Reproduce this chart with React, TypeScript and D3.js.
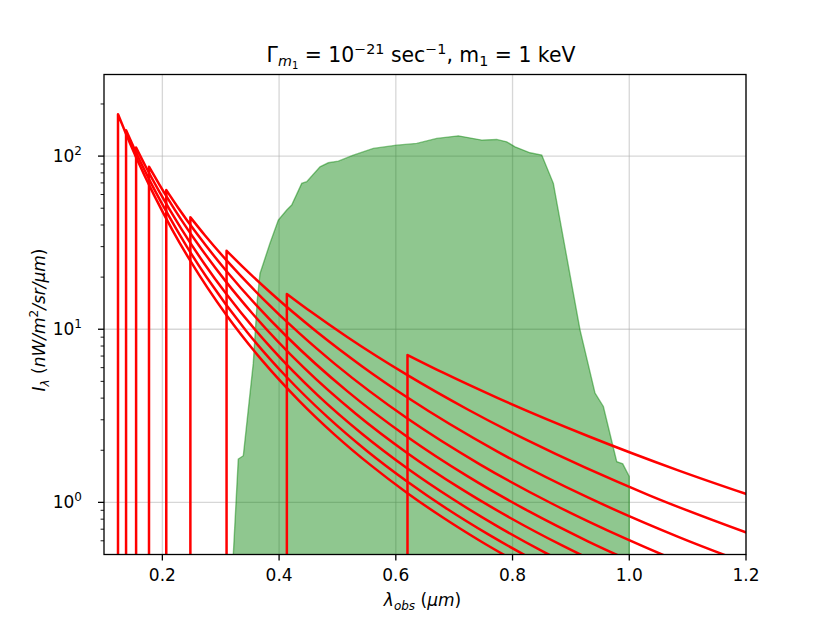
import React from 'react';
import * as d3 from 'd3';

const W = 830;
const H = 623;
const PLOT = { left: 104, right: 746, top: 74.5, bottom: 554.5 };

const xDomain = [0.1, 1.2];
const yDomain = [0.5, 296];
const xTicks = [0.2, 0.4, 0.6, 0.8, 1.0, 1.2];
const xTickLabels = ['0.2', '0.4', '0.6', '0.8', '1.0', '1.2'];
const yTicks = [1, 10, 100];
const yTickExps = ['0', '1', '2'];

// green band (observational sensitivity region)
const bandLambda = [0.3213, 0.3301, 0.3387, 0.3558, 0.3627, 0.3673, 0.373, 0.3844, 0.3987, 0.4131, 0.4216, 0.4388, 0.4473, 0.4701, 0.4843, 0.5015, 0.5272, 0.5614, 0.6015, 0.6358, 0.6701, 0.7071, 0.7472, 0.7729, 0.79, 0.8043, 0.83, 0.85, 0.8699, 0.9156, 0.9413, 0.9556, 0.9785, 0.9888, 1.0, 1.0001];
const bandFlux = [0.48, 1.78, 1.86, 6.37, 14.8, 21.0, 24.0, 31.4, 42.7, 48.8, 52.2, 69.6, 71.1, 86.8, 91.5, 93.5, 101.3, 110.8, 115.7, 118.4, 126.5, 130.9, 123.7, 124.8, 120.9, 113.2, 104.5, 101.4, 69.6, 9.92, 4.28, 3.58, 1.72, 1.67, 1.41, 0.48];

// red lines: [lambda_obs, I]
const line10 = [[0.124, 174.7], [0.1364, 137.7], [0.155, 98.5], [0.186, 59.3], [0.217, 37.54], [0.248, 24.81], [0.31, 12.04], [0.372, 6.54], [0.434, 3.873], [0.496, 2.448], [0.558, 1.63], [0.62, 1.13], [0.682, 0.812], [0.744, 0.6], [0.868, 0.35]];
const line9 = [[0.1378, 141], [0.1516, 111.1], [0.1722, 79.5], [0.2067, 47.9], [0.2411, 30.3], [0.2756, 20.02], [0.3444, 9.71], [0.4133, 5.28], [0.4822, 3.126], [0.5511, 1.975], [0.62, 1.316], [0.6889, 0.912], [0.7578, 0.655], [0.8267, 0.484], [0.9644, 0.283]];
const line8 = [[0.155, 112], [0.1705, 88.3], [0.1938, 63.2], [0.2325, 38.0], [0.2713, 24.07], [0.31, 15.9], [0.3875, 7.72], [0.465, 4.19], [0.5425, 2.483], [0.62, 1.569], [0.6975, 1.045], [0.775, 0.725], [0.8525, 0.52], [0.93, 0.384]];
const line7 = [[0.1771, 86.8], [0.1949, 68.4], [0.2214, 48.96], [0.2657, 29.48], [0.31, 18.65], [0.3543, 12.33], [0.4429, 5.98], [0.5314, 3.251], [0.62, 1.924], [0.7086, 1.216], [0.7971, 0.81], [0.8857, 0.562], [1.0629, 0.298]];
const line6 = [[0.2067, 63.7], [0.2273, 50.2], [0.2583, 35.93], [0.31, 21.63], [0.3617, 13.69], [0.4133, 9.05], [0.5167, 4.39], [0.62, 2.386], [0.7233, 1.412], [0.8267, 0.892], [0.93, 0.594], [1.0333, 0.412]];
const line5 = [[0.248, 44.3], [0.2728, 34.9], [0.31, 24.99], [0.372, 15.04], [0.434, 9.52], [0.496, 6.29], [0.62, 3.05], [0.744, 1.659], [0.868, 0.982], [0.992, 0.621], [1.116, 0.4133], [1.24, 0.287]];
const line4 = [[0.31, 28.4], [0.341, 22.38], [0.3875, 16.02], [0.465, 9.64], [0.5425, 6.1], [0.62, 4.03], [0.775, 1.957], [0.93, 1.064], [1.085, 0.63], [1.24, 0.398]];
const line3 = [[0.4133, 16.0], [0.4547, 12.61], [0.5167, 9.02], [0.62, 5.43], [0.7233, 3.44], [0.8267, 2.27], [1.0333, 1.102], [1.24, 0.599]];
const line2 = [[0.62, 7.1], [0.682, 5.59], [0.775, 4.0], [0.93, 2.41], [1.085, 1.526], [1.24, 1.008]];

const redLines = [line10, line9, line8, line7, line6, line5, line4, line3, line2];

const FONT = 'DejaVu Sans, Verdana, sans-serif';
const FS = 17;

export default function App() {
  const x = d3.scaleLinear().domain(xDomain).range([PLOT.left, PLOT.right]);
  const y = d3.scaleLog().domain(yDomain).range([PLOT.bottom, PLOT.top]);

  const bandPts = bandLambda.map((l, i) => [l, bandFlux[i]] as [number, number]);
  const area = d3
    .area<[number, number]>()
    .x((d) => x(d[0]))
    .y0(PLOT.bottom + 5)
    .y1((d) => y(d[1]));
  const bandLine = d3
    .line<[number, number]>()
    .x((d) => x(d[0]))
    .y((d) => y(d[1]));

  const curve = d3
    .line<number[]>()
    .x((d) => x(d[0]))
    .y((d) => y(d[1]))
    .curve(d3.curveMonotoneX);

  const redPaths = redLines.map((pts) => {
    const p = curve(pts) || '';
    const x0 = x(pts[0][0]);
    return `M${x0},${PLOT.bottom + 5}` + p.replace(/^M/, 'L');
  });

  const minorTicks: number[] = [];
  for (let e = -1; e <= 2; e++) {
    for (let k = 2; k <= 9; k++) {
      const v = k * Math.pow(10, e);
      if (v > yDomain[0] * 1.001 && v < yDomain[1]) minorTicks.push(v);
    }
  }

  return (
    <svg
      width={W}
      height={H}
      viewBox={`0 0 ${W} ${H}`}
      style={{ position: 'absolute', left: 0, top: 0, background: '#fff' }}
      fontFamily={FONT}
    >
      <defs>
        <clipPath id="plotClip">
          <rect x={PLOT.left} y={PLOT.top} width={PLOT.right - PLOT.left} height={PLOT.bottom - PLOT.top} />
        </clipPath>
      </defs>
      <rect x={0} y={0} width={W} height={H} fill="#fff" />

      {/* grid */}
      <g stroke="#b0b0b0" strokeOpacity={0.5} strokeWidth={1.3}>
        {xTicks.map((t) => (
          <line key={'gx' + t} x1={x(t)} x2={x(t)} y1={PLOT.top} y2={PLOT.bottom} />
        ))}
        {yTicks.map((t) => (
          <line key={'gy' + t} x1={PLOT.left} x2={PLOT.right} y1={y(t)} y2={y(t)} />
        ))}
      </g>

      <g clipPath="url(#plotClip)">
        <path d={area(bandPts) || ''} fill="green" fillOpacity={0.44} stroke="none" />
        <path d={bandLine(bandPts) || ''} fill="none" stroke="green" strokeOpacity={0.45} strokeWidth={1.4} />
        {redPaths.map((d, i) => (
          <path key={'r' + i} d={d} fill="none" stroke="#ff0000" strokeWidth={2.5} strokeLinejoin="round" />
        ))}
      </g>

      {/* spines */}
      <rect
        x={PLOT.left}
        y={PLOT.top}
        width={PLOT.right - PLOT.left}
        height={PLOT.bottom - PLOT.top}
        fill="none"
        stroke="#000"
        strokeWidth={1.3}
      />

      {/* ticks */}
      <g stroke="#000" strokeWidth={1.3}>
        {xTicks.map((t) => (
          <line key={'xt' + t} x1={x(t)} x2={x(t)} y1={PLOT.bottom} y2={PLOT.bottom + 6} />
        ))}
        {yTicks.map((t) => (
          <line key={'yt' + t} x1={PLOT.left - 6} x2={PLOT.left} y1={y(t)} y2={y(t)} />
        ))}
        {minorTicks.map((t) => (
          <line key={'ym' + t} x1={PLOT.left - 3.4} x2={PLOT.left} y1={y(t)} y2={y(t)} strokeWidth={0.9} />
        ))}
      </g>
      <g fontSize={FS} fill="#000">
        {xTicks.map((t, i) => (
          <text key={'xl' + t} x={x(t)} y={580.5} textAnchor="middle">
            {xTickLabels[i]}
          </text>
        ))}
        {yTicks.map((t, i) => (
          <text key={'yl' + t} x={PLOT.left - 22} y={y(t) + 6} textAnchor="end">
            10
            <tspan fontSize={12} dy={-7.5}>
              {yTickExps[i]}
            </tspan>
          </text>
        ))}
      </g>

      {/* x label */}
      <text x={422.5} y={606} textAnchor="middle" fontSize={FS}>
        <tspan fontStyle="italic">λ</tspan>
        <tspan fontStyle="italic" fontSize={12} dy={3.5}>
          obs
        </tspan>
        <tspan dy={-3.5}> (</tspan>
        <tspan fontStyle="italic">μm</tspan>
        <tspan>)</tspan>
      </text>

      {/* y label */}
      <text transform={`translate(45, 320) rotate(-90)`} textAnchor="middle" fontSize={FS}>
        <tspan fontStyle="italic">I</tspan>
        <tspan fontStyle="italic" fontSize={12} dy={3.5}>
          λ
        </tspan>
        <tspan dy={-3.5}> (</tspan>
        <tspan fontStyle="italic">nW/m</tspan>
        <tspan fontSize={12} dy={-7}>
          2
        </tspan>
        <tspan fontStyle="italic" dy={7}>
          /sr/μm
        </tspan>
        <tspan>)</tspan>
      </text>

      {/* title */}
      <text x={421} y={62} textAnchor="middle" fontSize={20.4}>
        <tspan>Γ</tspan>
        <tspan fontStyle="italic" fontSize={14.3} dy={4}>
          m
        </tspan>
        <tspan fontSize={10} dy={2.5}>
          1
        </tspan>
        <tspan dy={-6.5}> = 10</tspan>
        <tspan fontSize={14.3} dy={-8.5}>
          −21
        </tspan>
        <tspan dy={8.5}> sec</tspan>
        <tspan fontSize={14.3} dy={-8.5}>
          −1
        </tspan>
        <tspan dy={8.5}>, m</tspan>
        <tspan fontSize={14.3} dy={4}>
          1
        </tspan>
        <tspan dy={-4}> = 1 keV</tspan>
      </text>
    </svg>
  );
}
